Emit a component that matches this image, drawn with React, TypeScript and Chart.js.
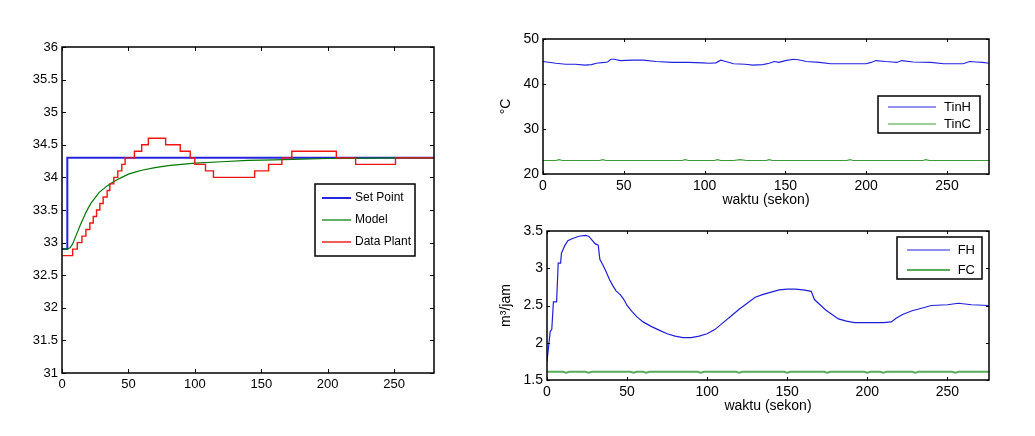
import React, { useEffect, useRef } from 'react';
import { Chart, registerables } from 'chart.js';

Chart.register(...registerables);

const FONT = '"Liberation Sans", Arial, Helvetica, sans-serif';

// ---------- Left chart (response) ----------
const spTime = [0, 4, 280];
const spValue = [32.9, 34.3, 34.3];

const modelTime = [0, 4, 6, 8, 10, 12, 14, 16, 18, 20, 22, 25, 28, 31, 34, 37, 40, 45, 50, 55, 60, 70, 80, 90, 100, 120, 140, 160, 180, 200, 230, 260, 280];
const modelValue = [32.9, 32.9, 32.92, 32.98, 33.08, 33.18, 33.28, 33.37, 33.46, 33.54, 33.61, 33.69, 33.77, 33.82, 33.87, 33.91, 33.95, 34.0, 34.05, 34.08, 34.11, 34.15, 34.18, 34.2, 34.22, 34.24, 34.26, 34.27, 34.28, 34.29, 34.295, 34.3, 34.3];

const plantTime = [0, 8, 11.5, 15, 18, 21, 23.5, 26, 28.5, 31, 34, 36, 39, 42, 45, 47.5, 54.5, 60, 65, 78, 89, 96.5, 100, 108, 114, 145, 155.5, 165.5, 173, 206.5, 221, 251, 280];
const plantValue = [32.8, 32.9, 33.0, 33.1, 33.2, 33.3, 33.4, 33.5, 33.6, 33.7, 33.8, 33.9, 34.0, 34.1, 34.2, 34.3, 34.4, 34.5, 34.6, 34.5, 34.4, 34.3, 34.2, 34.1, 34.0, 34.1, 34.2, 34.3, 34.4, 34.3, 34.2, 34.3, 34.3];

const leftXTicks = [0, 50, 100, 150, 200, 250];
const leftYTicks = [31, 31.5, 32, 32.5, 33, 33.5, 34, 34.5, 35, 35.5, 36];

// ---------- Right top chart (temperatures) ----------
const tinHTime = [0, 8, 14, 20, 26, 30, 33, 38, 40, 42, 44, 48, 55, 62, 70, 80, 90, 99, 103, 107, 110, 113, 118, 125, 130, 136, 140, 143, 146, 150, 155, 158, 163, 171, 178, 190, 200, 203, 206, 212, 216, 219, 222, 229, 240, 248, 256, 260, 264, 268, 272, 276];
const tinHValue = [45.0, 44.6, 44.4, 44.4, 44.2, 44.3, 44.6, 44.8, 44.9, 45.5, 45.5, 45.2, 45.3, 45.3, 45.0, 44.8, 44.8, 44.7, 44.6, 44.7, 45.3, 45.0, 44.5, 44.4, 44.2, 44.3, 44.6, 45.0, 44.8, 45.2, 45.5, 45.4, 45.0, 44.8, 44.5, 44.5, 44.5, 44.8, 45.2, 45.0, 44.9, 44.8, 45.2, 44.9, 44.8, 44.5, 44.5, 44.5, 45.0, 44.9, 44.8, 44.6];

const tinCTime = [0, 8, 10, 12, 35, 37, 39, 86, 88, 90, 106, 108, 110, 118, 122, 126, 138, 140, 142, 188, 190, 192, 235, 237, 239, 276];
const tinCValue = [23, 23, 23.2, 23, 23, 23.2, 23, 23, 23.2, 23, 23, 23.2, 23, 23, 23.2, 23, 23, 23.2, 23, 23, 23.2, 23, 23, 23.2, 23, 23];

const tempXTicks = [0, 50, 100, 150, 200, 250];
const tempYTicks = [20, 30, 40, 50];

// ---------- Right bottom chart (flows) ----------
const fhTime = [0, 1, 2, 3, 4, 6, 7, 8.5, 9, 11, 13, 16, 20, 24, 26, 28, 30, 32, 33, 35, 37, 39, 41, 43, 46, 48, 50, 53, 56, 60, 65, 70, 75, 80, 85, 90, 95, 100, 105, 110, 115, 120, 125, 130, 135, 140, 145, 150, 155, 160, 165, 167, 170, 174, 178, 182, 187, 192, 200, 210, 215, 218, 222, 228, 235, 240, 250, 257, 265, 276];
const fhValue = [1.75, 1.95, 2.15, 2.18, 2.55, 2.55, 3.07, 3.07, 3.2, 3.3, 3.37, 3.4, 3.43, 3.44, 3.43, 3.38, 3.33, 3.31, 3.12, 3.04, 2.95, 2.85, 2.77, 2.7, 2.64, 2.58, 2.5, 2.42, 2.35, 2.28, 2.22, 2.17, 2.12, 2.09, 2.07, 2.07, 2.09, 2.12, 2.18, 2.27, 2.36, 2.45, 2.53, 2.61, 2.65, 2.68, 2.71, 2.72, 2.72, 2.71, 2.69, 2.58, 2.52, 2.44, 2.38, 2.32, 2.29, 2.27, 2.27, 2.27, 2.28, 2.33, 2.38, 2.43, 2.47, 2.5, 2.51, 2.53, 2.51, 2.5];

const fcTime = [0, 10, 12, 14, 24, 26, 28, 52, 54, 56, 60, 62, 64, 94, 96, 98, 118, 120, 122, 148, 150, 152, 173, 175, 177, 198, 200, 202, 208, 210, 212, 228, 230, 232, 253, 255, 257, 276];
const fcValue = [1.61, 1.61, 1.598, 1.61, 1.61, 1.598, 1.61, 1.61, 1.598, 1.61, 1.61, 1.598, 1.61, 1.61, 1.598, 1.61, 1.61, 1.598, 1.61, 1.61, 1.598, 1.61, 1.61, 1.598, 1.61, 1.61, 1.598, 1.61, 1.61, 1.598, 1.61, 1.61, 1.598, 1.61, 1.61, 1.598, 1.61, 1.61];

const flowXTicks = [0, 50, 100, 150, 200, 250];
const flowYTicks = [1.5, 2, 2.5, 3, 3.5];

const zip = (xs: number[], ys: number[]) => xs.map((x, i) => ({ x, y: ys[i] }));

// MATLAB-like box with inward ticks on all four sides
const framePlugin = {
  id: 'matlabFrame',
  afterDatasetsDraw(chart: any, _args: any, opts: any) {
    const { ctx, chartArea: a, scales } = chart;
    const L = opts.tickLen ?? 4;
    ctx.save();
    ctx.strokeStyle = '#000';
    ctx.lineWidth = 1;
    ctx.beginPath();
    scales.x.ticks.forEach((t: any) => {
      const px = Math.round(scales.x.getPixelForValue(t.value)) + 0.5;
      ctx.moveTo(px, a.bottom);
      ctx.lineTo(px, a.bottom - L);
      ctx.moveTo(px, a.top);
      ctx.lineTo(px, a.top + L);
    });
    scales.y.ticks.forEach((t: any) => {
      const py = Math.round(scales.y.getPixelForValue(t.value)) + 0.5;
      ctx.moveTo(a.left, py);
      ctx.lineTo(a.left + L, py);
      ctx.moveTo(a.right, py);
      ctx.lineTo(a.right - L, py);
    });
    ctx.stroke();
    ctx.lineWidth = opts.lineWidth ?? 1.5;
    ctx.strokeRect(a.left, a.top, a.right - a.left, a.bottom - a.top);
    ctx.restore();
  },
};

// Boxed legend inside the axes, like MATLAB
const boxLegendPlugin = {
  id: 'boxLegend',
  afterDraw(chart: any, _args: any, opts: any) {
    if (!opts || !opts.box) return;
    const { ctx } = chart;
    const [x0, y0, x1, y1] = opts.box;
    ctx.save();
    ctx.fillStyle = '#fff';
    ctx.fillRect(x0, y0, x1 - x0, y1 - y0);
    ctx.strokeStyle = '#000';
    ctx.lineWidth = 1.5;
    ctx.strokeRect(x0, y0, x1 - x0, y1 - y0);
    ctx.font = `${opts.fontSize}px ${FONT}`;
    ctx.textBaseline = 'middle';
    chart.data.datasets.forEach((ds: any, i: number) => {
      const y = opts.rows[i];
      ctx.strokeStyle = ds.borderColor;
      ctx.lineWidth = ds.borderWidth;
      ctx.beginPath();
      ctx.moveTo(opts.lineX[0], y);
      ctx.lineTo(opts.lineX[1], y);
      ctx.stroke();
      ctx.fillStyle = '#000';
      ctx.textAlign = opts.align;
      ctx.fillText(ds.label, opts.textX, y);
    });
    ctx.restore();
  },
};

function makeConfig(p: {
  datasets: any[];
  xMax: number;
  yMin: number;
  yMax: number;
  xTicks: number[];
  yTicks: number[];
  yWidth: number;
  xHeight: number;
  padding: any;
  fontSize: number;
  xTitle?: string;
  yTitle?: string;
  yTitlePad?: number;
  xTitlePad?: number;
  legend: any;
  tickLen: number;
}) {
  const fmt = (v: any) => String(v);
  return {
    type: 'line',
    data: { datasets: p.datasets },
    plugins: [framePlugin, boxLegendPlugin],
    options: {
      responsive: false,
      animation: false,
      events: [],
      layout: { padding: p.padding },
      elements: { point: { radius: 0 }, line: { tension: 0 } },
      plugins: {
        legend: { display: false },
        tooltip: { enabled: false },
        matlabFrame: { tickLen: p.tickLen, lineWidth: 1.5 },
        boxLegend: p.legend,
      },
      scales: {
        x: {
          type: 'linear',
          min: 0,
          max: p.xMax,
          grid: { display: false, drawTicks: false },
          border: { display: false },
          afterBuildTicks: (s: any) => {
            s.ticks = p.xTicks.map((v) => ({ value: v }));
          },
          afterFit: (s: any) => {
            s.height = p.xHeight;
          },
          ticks: {
            autoSkip: false,
            maxRotation: 0,
            padding: 4,
            color: '#000',
            font: { size: p.fontSize, family: FONT },
            callback: fmt,
          },
          title: p.xTitle
            ? {
                display: true,
                text: p.xTitle,
                color: '#000',
                font: { size: p.fontSize, family: FONT },
                padding: { top: 0, bottom: p.xTitlePad ?? 2 },
              }
            : { display: false },
        },
        y: {
          type: 'linear',
          min: p.yMin,
          max: p.yMax,
          grid: { display: false, drawTicks: false },
          border: { display: false },
          afterBuildTicks: (s: any) => {
            s.ticks = p.yTicks.map((v) => ({ value: v }));
          },
          afterFit: (s: any) => {
            s.width = p.yWidth;
          },
          ticks: {
            autoSkip: false,
            padding: 4,
            color: '#000',
            font: { size: p.fontSize, family: FONT },
            callback: fmt,
          },
          title: p.yTitle
            ? {
                display: true,
                text: p.yTitle,
                color: '#000',
                font: { size: p.fontSize, family: FONT },
                padding: { top: p.yTitlePad ?? 8, bottom: 0 },
              }
            : { display: false },
        },
      },
    },
  };
}

function ChartCanvas({ config, left, top, width, height }: any) {
  const ref = useRef<HTMLCanvasElement | null>(null);
  useEffect(() => {
    if (!ref.current) return;
    const chart = new Chart(ref.current, config as any);
    return () => chart.destroy();
  }, [config]);
  return (
    <canvas
      ref={ref}
      width={width}
      height={height}
      style={{ position: 'absolute', left, top, width, height, display: 'block' }}
    />
  );
}

const leftConfig = makeConfig({
  datasets: [
    { label: 'Set Point', data: zip(spTime, spValue), borderColor: '#2424e0', borderWidth: 2, stepped: true, fill: false, order: 2 },
    { label: 'Model', data: zip(modelTime, modelValue), borderColor: '#007800', borderWidth: 1.2, fill: false, order: 1 },
    { label: 'Data Plant', data: zip(plantTime, plantValue), borderColor: '#f01414', borderWidth: 1.4, stepped: true, fill: false, order: 0 },
  ],
  xMax: 280,
  yMin: 31,
  yMax: 36,
  xTicks: leftXTicks,
  yTicks: leftYTicks,
  yWidth: 62,
  xHeight: 30,
  padding: { left: 0, top: 47, right: 46, bottom: 33 },
  fontSize: 13,
  legend: {
    box: [315, 184, 415, 256],
    rows: [198, 220, 242],
    lineX: [322, 351],
    textX: 355,
    align: 'left',
    fontSize: 12,
  },
  tickLen: 4,
});

const tempConfig = makeConfig({
  datasets: [
    { label: 'TinH', data: zip(tinHTime, tinHValue), borderColor: '#2222dd', borderWidth: 1.1, fill: false, order: 1 },
    { label: 'TinC', data: zip(tinCTime, tinCValue), borderColor: '#3c9a3c', borderWidth: 1.1, fill: false, order: 0 },
  ],
  xMax: 276,
  yMin: 20,
  yMax: 50,
  xTicks: tempXTicks,
  yTicks: tempYTicks,
  yWidth: 53,
  xHeight: 36,
  padding: { left: 0, top: 39, right: 46, bottom: 8 },
  fontSize: 14,
  xTitle: 'waktu (sekon)',
  xTitlePad: 1,
  yTitle: '°C',
  yTitlePad: 8,
  legend: {
    box: [388, 96, 490, 133],
    rows: [107, 124],
    lineX: [398, 446],
    textX: 481,
    align: 'right',
    fontSize: 13,
  },
  tickLen: 3,
});

const flowConfig = makeConfig({
  datasets: [
    { label: 'FH', data: zip(fhTime, fhValue), borderColor: '#1e1ed8', borderWidth: 1.2, fill: false, order: 1 },
    { label: 'FC', data: zip(fcTime, fcValue), borderColor: '#5aaa5a', borderWidth: 2, fill: false, order: 0 },
  ],
  xMax: 276,
  yMin: 1.5,
  yMax: 3.5,
  xTicks: flowXTicks,
  yTicks: flowYTicks,
  yWidth: 57,
  xHeight: 36,
  padding: { left: 0, top: 13, right: 46, bottom: 20 },
  fontSize: 14,
  xTitle: 'waktu (sekon)',
  xTitlePad: 1,
  yTitle: 'm³/jam',
  yTitlePad: 8,
  legend: {
    box: [407, 19, 492, 61],
    rows: [32, 52],
    lineX: [417, 460],
    textX: 485,
    align: 'right',
    fontSize: 13,
  },
  tickLen: 3,
});

export default function App() {
  return (
    <div style={{ position: 'absolute', left: 0, top: 0, width: 1035, height: 436, background: '#fff', overflow: 'hidden' }}>
      <ChartCanvas config={leftConfig} left={0} top={0} width={480} height={436} />
      <ChartCanvas config={tempConfig} left={490} top={0} width={545} height={218} />
      <ChartCanvas config={flowConfig} left={490} top={218} width={545} height={218} />
    </div>
  );
}
